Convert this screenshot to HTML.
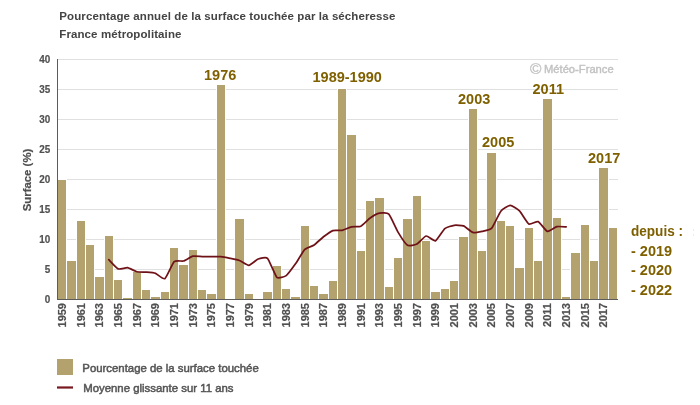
<!DOCTYPE html>
<html lang="fr"><head><meta charset="utf-8"><title>Pourcentage annuel de la surface touchée par la sécheresse</title>
<style>
html,body{margin:0;padding:0;background:#fff}
body{width:700px;height:405px;overflow:hidden}
svg{display:block;font-family:"Liberation Sans",Arial,sans-serif;font-weight:bold}
.t{font-size:11.5px;fill:#444;letter-spacing:0.1px}
.ax{font-size:11px;fill:#505050;stroke:#505050;stroke-width:0.2px}
.an{font-size:14.5px;fill:#7f6000}
.lg{font-size:11.38px;fill:#555;font-weight:normal;stroke:#555;stroke-width:0.5px}
</style></head><body>
<svg width="700" height="405" viewBox="0 0 700 405">
<rect width="700" height="405" fill="#fff"/>
<text class="t" x="59.3" y="20">Pourcentage annuel de la surface touchée par la sécheresse</text>
<text class="t" x="59.3" y="38">France métropolitaine</text>
<g fill="#e0e0e0" shape-rendering="crispEdges"><rect x="58" y="59" width="560" height="1"/><rect x="58" y="89" width="560" height="1"/><rect x="58" y="119" width="560" height="1"/><rect x="58" y="149" width="560" height="1"/><rect x="58" y="179" width="560" height="1"/><rect x="58" y="209" width="560" height="1"/><rect x="58" y="239" width="560" height="1"/><rect x="58" y="269" width="560" height="1"/></g>
<text x="530" y="73" font-weight="normal" fill="#c2c2c2"><tspan font-size="15.5" dy="0.6" stroke="#c2c2c2" stroke-width="0.3">©</tspan><tspan x="544" dy="-0.6" font-size="11.2" stroke="#c2c2c2" stroke-width="0.4">Météo-France</tspan></text>
<g fill="#fff" shape-rendering="crispEdges"><rect x="57" y="179" width="10" height="120"/><rect x="66" y="260" width="11" height="39"/><rect x="76" y="220" width="10" height="79"/><rect x="85" y="244" width="10" height="55"/><rect x="94" y="276" width="11" height="23"/><rect x="104" y="235" width="10" height="64"/><rect x="113" y="279" width="10" height="20"/><rect x="122" y="297" width="11" height="2"/><rect x="132" y="271" width="10" height="28"/><rect x="141" y="289" width="10" height="10"/><rect x="150" y="296" width="11" height="3"/><rect x="160" y="291" width="10" height="8"/><rect x="169" y="247" width="10" height="52"/><rect x="178" y="264" width="11" height="35"/><rect x="188" y="249" width="10" height="50"/><rect x="197" y="289" width="10" height="10"/><rect x="206" y="293" width="11" height="6"/><rect x="216" y="84" width="10" height="215"/><rect x="234" y="218" width="11" height="81"/><rect x="244" y="293" width="10" height="6"/><rect x="262" y="291" width="11" height="8"/><rect x="272" y="265" width="10" height="34"/><rect x="281" y="288" width="10" height="11"/><rect x="290" y="296" width="11" height="3"/><rect x="300" y="225" width="10" height="74"/><rect x="309" y="285" width="10" height="14"/><rect x="318" y="293" width="11" height="6"/><rect x="328" y="280" width="10" height="19"/><rect x="337" y="88" width="10" height="211"/><rect x="346" y="134" width="11" height="165"/><rect x="356" y="250" width="10" height="49"/><rect x="365" y="200" width="10" height="99"/><rect x="374" y="197" width="11" height="102"/><rect x="384" y="286" width="10" height="13"/><rect x="393" y="257" width="10" height="42"/><rect x="402" y="218" width="11" height="81"/><rect x="412" y="195" width="10" height="104"/><rect x="421" y="240" width="10" height="59"/><rect x="430" y="291" width="11" height="8"/><rect x="440" y="288" width="10" height="11"/><rect x="449" y="280" width="10" height="19"/><rect x="458" y="236" width="11" height="63"/><rect x="468" y="108" width="10" height="191"/><rect x="477" y="250" width="10" height="49"/><rect x="486" y="152" width="11" height="147"/><rect x="496" y="220" width="10" height="79"/><rect x="505" y="225" width="10" height="74"/><rect x="514" y="267" width="11" height="32"/><rect x="524" y="227" width="10" height="72"/><rect x="533" y="260" width="10" height="39"/><rect x="542" y="98" width="11" height="201"/><rect x="552" y="217" width="10" height="82"/><rect x="561" y="296" width="10" height="3"/><rect x="570" y="252" width="11" height="47"/><rect x="580" y="224" width="10" height="75"/><rect x="589" y="260" width="10" height="39"/><rect x="598" y="167" width="11" height="132"/><rect x="608" y="227" width="10" height="72"/></g>
<g fill="#b3a26e" shape-rendering="crispEdges"><rect x="58" y="180" width="8" height="119"/><rect x="67" y="261" width="9" height="38"/><rect x="77" y="221" width="8" height="78"/><rect x="86" y="245" width="8" height="54"/><rect x="95" y="277" width="9" height="22"/><rect x="105" y="236" width="8" height="63"/><rect x="114" y="280" width="8" height="19"/><rect x="123" y="298" width="9" height="1"/><rect x="133" y="272" width="8" height="27"/><rect x="142" y="290" width="8" height="9"/><rect x="151" y="297" width="9" height="2"/><rect x="161" y="292" width="8" height="7"/><rect x="170" y="248" width="8" height="51"/><rect x="179" y="265" width="9" height="34"/><rect x="189" y="250" width="8" height="49"/><rect x="198" y="290" width="8" height="9"/><rect x="207" y="294" width="9" height="5"/><rect x="217" y="85" width="8" height="214"/><rect x="235" y="219" width="9" height="80"/><rect x="245" y="294" width="8" height="5"/><rect x="263" y="292" width="9" height="7"/><rect x="273" y="266" width="8" height="33"/><rect x="282" y="289" width="8" height="10"/><rect x="291" y="297" width="9" height="2"/><rect x="301" y="226" width="8" height="73"/><rect x="310" y="286" width="8" height="13"/><rect x="319" y="294" width="9" height="5"/><rect x="329" y="281" width="8" height="18"/><rect x="338" y="89" width="8" height="210"/><rect x="347" y="135" width="9" height="164"/><rect x="357" y="251" width="8" height="48"/><rect x="366" y="201" width="8" height="98"/><rect x="375" y="198" width="9" height="101"/><rect x="385" y="287" width="8" height="12"/><rect x="394" y="258" width="8" height="41"/><rect x="403" y="219" width="9" height="80"/><rect x="413" y="196" width="8" height="103"/><rect x="422" y="241" width="8" height="58"/><rect x="431" y="292" width="9" height="7"/><rect x="441" y="289" width="8" height="10"/><rect x="450" y="281" width="8" height="18"/><rect x="459" y="237" width="9" height="62"/><rect x="469" y="109" width="8" height="190"/><rect x="478" y="251" width="8" height="48"/><rect x="487" y="153" width="9" height="146"/><rect x="497" y="221" width="8" height="78"/><rect x="506" y="226" width="8" height="73"/><rect x="515" y="268" width="9" height="31"/><rect x="525" y="228" width="8" height="71"/><rect x="534" y="261" width="8" height="38"/><rect x="543" y="99" width="9" height="200"/><rect x="553" y="218" width="8" height="81"/><rect x="562" y="297" width="8" height="2"/><rect x="571" y="253" width="9" height="46"/><rect x="581" y="225" width="8" height="74"/><rect x="590" y="261" width="8" height="38"/><rect x="599" y="168" width="9" height="131"/><rect x="609" y="228" width="8" height="71"/></g>
<g fill="#5c5c5c" shape-rendering="crispEdges"><rect x="57" y="59" width="1" height="241"/><rect x="57" y="299" width="561" height="1"/></g>
<g class="ax"><text transform="translate(50.2,303) scale(0.9,1)" text-anchor="end">0</text><text transform="translate(50.2,273) scale(0.9,1)" text-anchor="end">5</text><text transform="translate(50.2,243) scale(0.9,1)" text-anchor="end">10</text><text transform="translate(50.2,213) scale(0.9,1)" text-anchor="end">15</text><text transform="translate(50.2,183) scale(0.9,1)" text-anchor="end">20</text><text transform="translate(50.2,153) scale(0.9,1)" text-anchor="end">25</text><text transform="translate(50.2,123) scale(0.9,1)" text-anchor="end">30</text><text transform="translate(50.2,93) scale(0.9,1)" text-anchor="end">35</text><text transform="translate(50.2,63) scale(0.9,1)" text-anchor="end">40</text><text transform="translate(65.9,303) rotate(-90)" text-anchor="end">1959</text><text transform="translate(84.5,303) rotate(-90)" text-anchor="end">1961</text><text transform="translate(103.2,303) rotate(-90)" text-anchor="end">1963</text><text transform="translate(121.9,303) rotate(-90)" text-anchor="end">1965</text><text transform="translate(140.5,303) rotate(-90)" text-anchor="end">1967</text><text transform="translate(159.2,303) rotate(-90)" text-anchor="end">1969</text><text transform="translate(177.9,303) rotate(-90)" text-anchor="end">1971</text><text transform="translate(196.5,303) rotate(-90)" text-anchor="end">1973</text><text transform="translate(215.2,303) rotate(-90)" text-anchor="end">1975</text><text transform="translate(233.9,303) rotate(-90)" text-anchor="end">1977</text><text transform="translate(252.5,303) rotate(-90)" text-anchor="end">1979</text><text transform="translate(271.2,303) rotate(-90)" text-anchor="end">1981</text><text transform="translate(289.9,303) rotate(-90)" text-anchor="end">1983</text><text transform="translate(308.5,303) rotate(-90)" text-anchor="end">1985</text><text transform="translate(327.2,303) rotate(-90)" text-anchor="end">1987</text><text transform="translate(345.9,303) rotate(-90)" text-anchor="end">1989</text><text transform="translate(364.5,303) rotate(-90)" text-anchor="end">1991</text><text transform="translate(383.2,303) rotate(-90)" text-anchor="end">1993</text><text transform="translate(401.9,303) rotate(-90)" text-anchor="end">1995</text><text transform="translate(420.5,303) rotate(-90)" text-anchor="end">1997</text><text transform="translate(439.2,303) rotate(-90)" text-anchor="end">1999</text><text transform="translate(457.9,303) rotate(-90)" text-anchor="end">2001</text><text transform="translate(476.5,303) rotate(-90)" text-anchor="end">2003</text><text transform="translate(495.2,303) rotate(-90)" text-anchor="end">2005</text><text transform="translate(513.9,303) rotate(-90)" text-anchor="end">2007</text><text transform="translate(532.5,303) rotate(-90)" text-anchor="end">2009</text><text transform="translate(551.2,303) rotate(-90)" text-anchor="end">2011</text><text transform="translate(569.9,303) rotate(-90)" text-anchor="end">2013</text><text transform="translate(588.5,303) rotate(-90)" text-anchor="end">2015</text><text transform="translate(607.2,303) rotate(-90)" text-anchor="end">2017</text><text transform="translate(31,180) rotate(-90)" text-anchor="middle" font-size="11.4">Surface (%)</text></g>
<path d="M108.83,259.73C109.63,260.51 116.58,268.23 118.17,268.91C119.75,269.59 125.91,267.49 127.50,267.73C129.09,267.97 135.25,271.35 136.83,271.73C138.42,272.11 144.58,272.04 146.17,272.18C147.75,272.32 153.91,272.81 155.50,273.36C157.09,273.91 163.25,279.64 164.83,278.64C166.42,277.64 172.58,263.11 174.17,261.61C175.75,260.11 181.91,261.46 183.50,261.00C185.09,260.54 191.25,256.56 192.83,256.18C194.42,255.80 200.58,256.50 202.17,256.55C203.75,256.59 209.91,256.71 211.50,256.73C213.09,256.74 219.25,256.59 220.83,256.73C222.42,256.87 228.58,258.04 230.17,258.36C231.75,258.69 237.91,259.95 239.50,260.55C241.09,261.14 247.25,265.45 248.83,265.32C250.42,265.19 256.58,259.60 258.17,259.00C259.75,258.40 265.91,256.72 267.50,258.27C269.09,259.83 275.25,275.80 276.83,277.27C278.42,278.75 284.58,276.78 286.17,275.64C287.75,274.49 293.91,266.05 295.50,263.82C297.09,261.58 303.25,250.96 304.83,249.36C306.42,247.76 312.58,246.07 314.17,245.00C315.75,243.93 321.91,237.96 323.50,236.73C325.09,235.50 331.25,231.09 332.83,230.55C334.42,230.00 340.58,230.68 342.17,230.36C343.75,230.05 349.91,227.17 351.50,226.82C353.09,226.46 359.25,226.93 360.83,226.18C362.42,225.43 368.58,219.10 370.17,218.00C371.75,216.90 377.91,213.51 379.50,213.18C381.09,212.86 387.25,212.55 388.83,214.18C390.42,215.81 396.58,229.72 398.17,232.36C399.75,235.00 405.91,244.25 407.50,245.24C409.09,246.22 415.25,244.75 416.83,243.96C418.42,243.18 424.58,236.27 426.17,236.00C427.75,235.73 433.91,241.44 435.50,240.82C437.09,240.19 443.25,229.96 444.83,228.64C446.42,227.31 452.58,225.50 454.17,225.27C455.75,225.04 461.91,225.30 463.50,225.91C465.09,226.52 471.25,232.00 472.83,232.45C474.42,232.91 480.58,231.61 482.17,231.27C483.75,230.93 489.91,230.16 491.50,228.45C493.09,226.75 499.25,213.14 500.83,211.18C502.42,209.23 508.58,205.48 510.17,205.45C511.75,205.43 517.91,209.33 519.50,210.91C521.09,212.49 527.25,223.09 528.83,224.00C530.42,224.91 536.58,221.00 538.17,221.64C539.75,222.27 545.91,231.03 547.50,231.45C549.09,231.88 555.25,227.03 556.83,226.64C558.42,226.24 565.37,226.80 566.17,226.82" fill="none" stroke="#6e1218" stroke-width="1.75" stroke-linejoin="round" stroke-linecap="round"/>
<g fill="#ececec"><rect x="693" y="229" width="1" height="2"/><rect x="693" y="234" width="1" height="2"/></g>
<g class="an">
<text x="204" y="80">1976</text>
<text x="312.5" y="82">1989-1990</text>
<text x="458" y="104">2003</text>
<text x="482" y="147">2005</text>
<text x="532.5" y="94">2011</text>
<text x="588" y="163">2017</text>
<text x="631" y="235.7" textLength="52" lengthAdjust="spacingAndGlyphs">depuis :</text>
<text x="631" y="256">- 2019</text>
<text x="631" y="275.3">- 2020</text>
<text x="631" y="295">- 2022</text>
</g>
<rect x="57" y="359" width="16" height="16" fill="#b3a26e"/>
<rect x="57" y="386.4" width="16" height="2.2" fill="#7a181f"/>
<g class="lg"><text x="82.3" y="372.2">Pourcentage de la surface touchée</text>
<text x="83.2" y="392.2">Moyenne glissante sur 11 ans</text></g>
</svg>
</body></html>
